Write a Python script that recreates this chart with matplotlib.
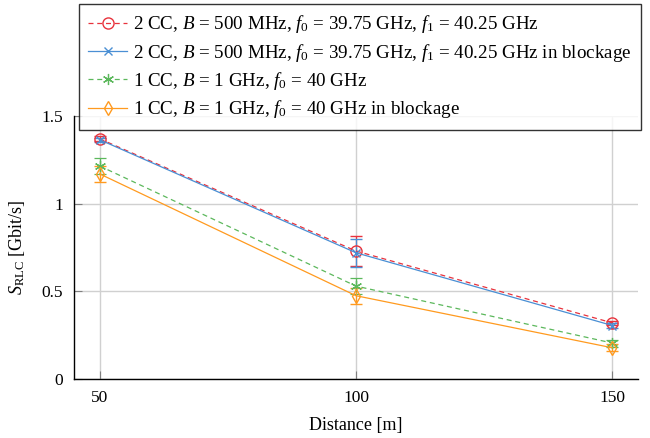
import matplotlib
matplotlib.use("Agg")
import matplotlib.pyplot as plt
from matplotlib.lines import Line2D

plt.rcParams['font.family'] = ['Liberation Serif', 'DejaVu Serif']
plt.rcParams['mathtext.fontset'] = 'custom'
plt.rcParams['mathtext.rm'] = 'Liberation Serif'
plt.rcParams['mathtext.it'] = 'Liberation Serif:italic'
plt.rcParams['mathtext.bf'] = 'Liberation Serif:bold'

# RLC throughput vs distance
distance = [50, 100, 150]

cc2 = [1.37, 0.73, 0.32]
cc2_err = [0.015, 0.085, 0.012]
cc2_block = [1.365, 0.72, 0.305]
cc2_block_err = [0.012, 0.08, 0.012]
cc1 = [1.215, 0.53, 0.205]
cc1_err = [0.045, 0.045, 0.02]
cc1_block = [1.17, 0.475, 0.178]
cc1_block_err = [0.045, 0.045, 0.02]

labels = [
    r"2 CC, $B$ = 500 MHz, $f_0$ = 39.75 GHz, $f_1$ = 40.25 GHz",
    r"2 CC, $B$ = 500 MHz, $f_0$ = 39.75 GHz, $f_1$ = 40.25 GHz in blockage",
    r"1 CC, $B$ = 1 GHz, $f_0$ = 40 GHz",
    r"1 CC, $B$ = 1 GHz, $f_0$ = 40 GHz in blockage",
]

red = '#e8323c'
blue = '#4a8fd4'
green = '#5cb85c'
orange = '#ff9a1f'
dash = (0, (4, 3))

styles = [
    dict(color=red, linestyle=dash, marker='o', markersize=8,
         markerfacecolor='none', markeredgewidth=1.0),
    dict(color=blue, linestyle='-', marker='x', markersize=6,
         markeredgewidth=1.0),
    dict(color=green, linestyle=dash, marker=(6, 2, 0), markersize=8,
         markeredgewidth=0.9),
    dict(color=orange, linestyle='-', marker='d', markersize=7,
         markerfacecolor='none', markeredgewidth=1.0),
]

fig = plt.figure(figsize=(6.5, 4.38), dpi=100)
ax = fig.add_axes([0.1138, 0.1347, 0.8677, 0.6005])

series = [(cc2, cc2_err), (cc2_block, cc2_block_err),
          (cc1, cc1_err), (cc1_block, cc1_block_err)]
handles = []
for (vals, errs), st in zip(series, styles):
    ax.errorbar(distance, vals, yerr=errs, linewidth=0.9, capsize=4,
                elinewidth=0.9, capthick=0.9, **st)
    handles.append(Line2D([], [], linewidth=0.9, **st))

ax.set_xlim(45, 155)
ax.set_ylim(0, 1.5)
ax.set_xticks(distance)
ax.set_yticks([0, 0.5, 1, 1.5])
ax.set_yticklabels(['0', '0.5', '1', '1.5'])
ax.grid(True, color='#d0d0d0', linewidth=1.0)
ax.set_axisbelow(True)
ax.spines['top'].set_visible(False)
ax.spines['right'].set_visible(False)
ax.spines['left'].set_linewidth(1.0)
ax.spines['bottom'].set_linewidth(1.0)
ax.tick_params(direction='in', length=6, color='#808080', labelsize=12.5, pad=8)

ax.set_xlabel("Distance [m]", fontsize=13, labelpad=8)
ax.set_ylabel(r"$S_{\mathrm{RLC}}$ [Gbit/s]", fontsize=13, labelpad=10)

leg = fig.legend(handles, labels, loc='upper left',
                 bbox_to_anchor=(0.1215, 0.991), fontsize=13.7,
                 frameon=True, fancybox=False, edgecolor='black',
                 handlelength=2.0, handletextpad=0.35, labelspacing=0.33,
                 borderpad=0.5, borderaxespad=0)
leg.get_frame().set_linewidth(1.0)

fig.savefig("out.png", dpi=100)
